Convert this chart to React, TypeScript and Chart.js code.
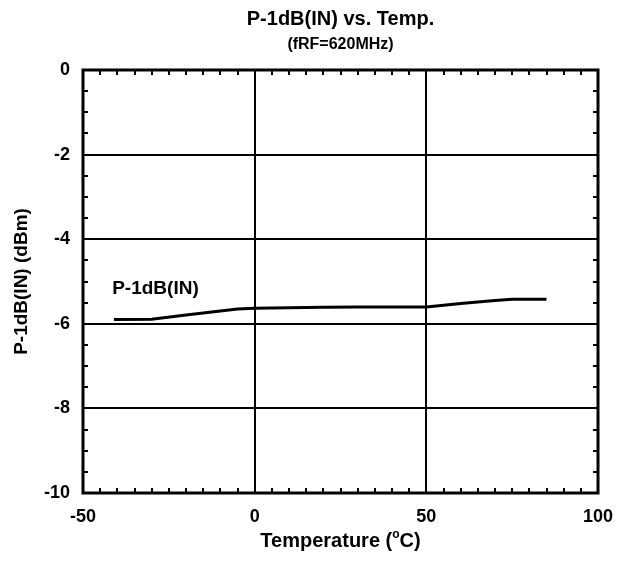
import React, { useEffect, useRef } from "react";
import { Chart, registerables } from "chart.js";

Chart.register(...registerables);

const temperatures = [-41, -30, -20, -10, -5, 0, 10, 20, 30, 40, 50, 60, 70, 75, 85];
const p1dbIn = [-5.9, -5.89, -5.79, -5.7, -5.65, -5.63, -5.62, -5.61, -5.6, -5.6, -5.6, -5.52, -5.45, -5.42, -5.42];
const xTickValues = [-50, 0, 50, 100];
const yTickValues = [0, -2, -4, -6, -8, -10];
const titleText = "P-1dB(IN) vs. Temp.";
const subtitleText = "(fRF=620MHz)";
const seriesLabel = "P-1dB(IN)";
const seriesLabelAt = { x: -41.5, y: -5.3 };
const xTitleParts = ["Temperature (", "o", "C)"];
const yTitleText = "P-1dB(IN) (dBm)";

const FONT = "'Liberation Sans', Arial, Helvetica, sans-serif";

export default function App() {
  const ref = useRef<HTMLCanvasElement>(null);

  useEffect(() => {
    document.body.style.margin = "0";
    const canvas = ref.current;
    if (!canvas) return;

    const decor = {
      id: "decor",
      afterDatasetsDraw(chart: any) {
        const ctx = chart.ctx as CanvasRenderingContext2D;
        const { left, right, top, bottom } = chart.chartArea;
        const xs = chart.scales.x;
        const ys = chart.scales.y;
        ctx.save();
        ctx.strokeStyle = "#000";
        ctx.fillStyle = "#000";
        // minor ticks
        ctx.lineWidth = 2;
        ctx.beginPath();
        for (let v = -45; v < 100; v += 5) {
          if (v % 50 === 0) continue;
          const px = Math.round(xs.getPixelForValue(v));
          ctx.moveTo(px, bottom);
          ctx.lineTo(px, bottom - 5);
          ctx.moveTo(px, top);
          ctx.lineTo(px, top + 5);
        }
        for (let v = -9.5; v < 0; v += 0.5) {
          if (Math.abs(v % 2) < 1e-6) continue;
          const py = Math.round(ys.getPixelForValue(v));
          ctx.moveTo(left, py);
          ctx.lineTo(left + 5, py);
          ctx.moveTo(right, py);
          ctx.lineTo(right - 5, py);
        }
        ctx.stroke();
        // frame
        ctx.lineWidth = 3;
        ctx.strokeRect(left, top, right - left, bottom - top);

        // titles
        const cx = (left + right) / 2;
        ctx.textAlign = "center";
        ctx.textBaseline = "alphabetic";
        ctx.font = `bold 20px ${FONT}`;
        ctx.fillText(titleText, cx, 25);
        ctx.font = `bold 16px ${FONT}`;
        ctx.fillText(subtitleText, cx, 49);

        // series label
        ctx.textAlign = "left";
        ctx.font = `bold 19px ${FONT}`;
        ctx.fillText(seriesLabel, xs.getPixelForValue(seriesLabelAt.x), ys.getPixelForValue(seriesLabelAt.y));

        // x title with superscript
        const big = `bold 20px ${FONT}`;
        const small = `bold 12px ${FONT}`;
        ctx.font = big;
        const w1 = ctx.measureText(xTitleParts[0]).width;
        const w3 = ctx.measureText(xTitleParts[2]).width;
        ctx.font = small;
        const w2 = ctx.measureText(xTitleParts[1]).width;
        const total = w1 + w2 + w3;
        const x0 = cx - total / 2;
        const base = 547;
        ctx.font = big;
        ctx.fillText(xTitleParts[0], x0, base);
        ctx.font = small;
        ctx.fillText(xTitleParts[1], x0 + w1, base - 9);
        ctx.font = big;
        ctx.fillText(xTitleParts[2], x0 + w1 + w2, base);

        // y title
        ctx.save();
        ctx.translate(22, (top + bottom) / 2);
        ctx.rotate(-Math.PI / 2);
        ctx.textAlign = "center";
        ctx.textBaseline = "middle";
        ctx.font = `bold 19px ${FONT}`;
        ctx.fillText(yTitleText, 0, 0);
        ctx.restore();

        ctx.restore();
      },
    };

    const tickFont = { family: FONT, size: 18, weight: "bold" as const };

    const chart = new Chart(canvas, {
      type: "line",
      data: {
        datasets: [
          {
            label: seriesLabel,
            data: temperatures.map((t, i) => ({ x: t, y: p1dbIn[i] })),
            borderColor: "#000",
            borderWidth: 3,
            pointRadius: 0,
            tension: 0,
            fill: false,
          },
        ],
      },
      options: {
        animation: false,
        responsive: false,
        layout: { padding: { top: 70, right: 29, left: 0, bottom: 0 } },
        plugins: {
          legend: { display: false },
          title: { display: false },
          tooltip: { enabled: false },
        },
        scales: {
          x: {
            type: "linear",
            min: -50,
            max: 100,
            afterBuildTicks: (s: any) => {
              s.ticks = xTickValues.map((v) => ({ value: v }));
            },
            afterFit: (s: any) => {
              s.height = 68;
            },
            grid: { color: "#000", lineWidth: 2, drawTicks: false },
            border: { display: false },
            ticks: { color: "#000", font: tickFont, padding: 13, maxRotation: 0, autoSkip: false },
          },
          y: {
            type: "linear",
            min: -10,
            max: 0,
            afterBuildTicks: (s: any) => {
              s.ticks = yTickValues.map((v) => ({ value: v }));
            },
            afterFit: (s: any) => {
              s.width = 83;
            },
            grid: { color: "#000", lineWidth: 2, drawTicks: false },
            border: { display: false },
            ticks: { color: "#000", font: tickFont, padding: 13, autoSkip: false },
          },
        },
      },
      plugins: [decor],
    });

    return () => chart.destroy();
  }, []);

  return (
    <div style={{ width: 627, height: 561 }}>
      <canvas ref={ref} width={627} height={561} style={{ display: "block" }} />
    </div>
  );
}
